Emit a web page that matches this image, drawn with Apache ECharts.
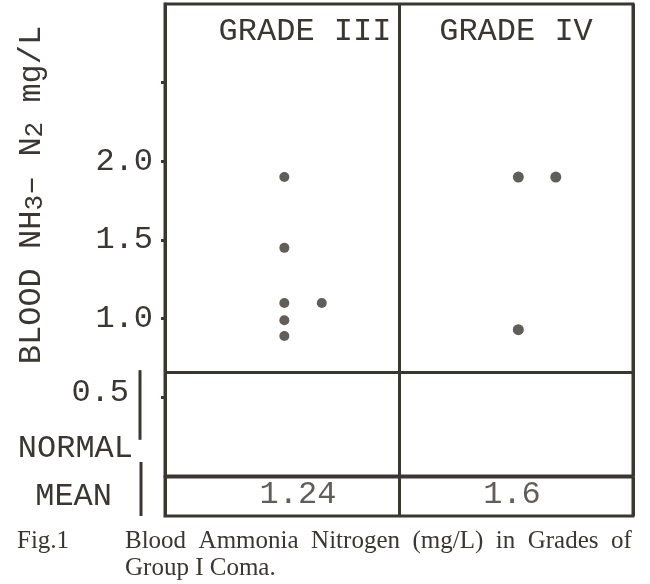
<!DOCTYPE html>
<html>
<head>
<meta charset="utf-8">
<script src="https://cdn.jsdelivr.net/npm/echarts@6/dist/echarts.min.js"></script>
<style>html,body{margin:0;background:#fff}#main{width:650px;height:584px}</style>
</head>
<body>
<div id="main"></div>
<script>
// data
var grades = ['GRADE III', 'GRADE IV'];
var gradeIIIValues = [1.9, 1.45, 1.1, 1.1, 0.99, 0.89];
var gradeIIIColumn = [0, 0, 0, 1, 0, 0];   // 1 = dot typed beside the column
var gradeIVValues = [1.9, 1.9, 0.93];
var gradeIVColumn = [0, 1, 0];
var means = ['1.24', '1.6'];
var normalRange = [0.23, 0.66];
var tickValues = [0.5, 1.0, 1.5, 2.0, 2.5];
var tickLabels = ['0.5', '1.0', '1.5', '2.0'];

var ink = '#3a3631';
var mono = 'Liberation Mono';
var serif = 'Liberation Serif';

// layout
var L = 165, R = 17, top1 = 4, bottom1 = 476, top2 = 477, bottom2 = 516;
var meanShift = [16, -4];

function points(values, cols, g) {
    return values.map(function (v, i) {
        return [g + 0.51 + cols[i] * 0.16, v];
    });
}

var myChart = echarts.init(document.getElementById('main'));
myChart.setOption({
    animation: false,
    title: [{
        text: 'Fig.1',
        left: 17, top: 528, padding: 0,
        textStyle: { fontFamily: serif, fontSize: 25, fontWeight: 'normal', color: ink, lineHeight: 27 }
    }, {
        text: 'Blood  Ammonia  Nitrogen  (mg/L)  in  Grades  of\nGroup I Coma.',
        left: 125, top: 528, padding: 0,
        textStyle: { fontFamily: serif, fontSize: 25, fontWeight: 'normal', color: ink, lineHeight: 27 }
    }],
    grid: [
        { left: L, right: R, top: top1, height: bottom1 - top1, outerBoundsMode: 'none', containLabel: false,
          show: true, borderColor: ink, borderWidth: 3 },
        { left: L, right: R, top: top2, height: bottom2 - top2, outerBoundsMode: 'none', containLabel: false,
          show: true, borderColor: ink, borderWidth: 3 }
    ],
    xAxis: [{
        type: 'value', gridIndex: 0, min: 0, max: 2, interval: 1,
        axisLine: { show: false }, axisTick: { show: false }, axisLabel: { show: false },
        splitLine: { show: true, lineStyle: { color: ink, width: 3 } }
    }, {
        type: 'category', gridIndex: 0, position: 'top', data: grades,
        axisLine: { show: false }, axisTick: { show: false },
        axisLabel: {
            inside: true, interval: 0, hideOverlap: false, margin: 12,
            fontFamily: mono, fontSize: 32, color: ink,
            formatter: function (v, i) { return i === 0 ? '{g|' + v + '}' : v; },
            rich: { g: { fontFamily: mono, fontSize: 32, color: ink, padding: [0, 0, 0, 46] } }
        }
    }, {
        type: 'value', gridIndex: 1, min: 0, max: 2, interval: 1,
        axisLine: { show: false }, axisTick: { show: false }, axisLabel: { show: false },
        splitLine: { show: true, lineStyle: { color: ink, width: 3 } }
    }],
    yAxis: [{
        type: 'value', gridIndex: 0, min: 0, max: 3, interval: 0.5,
        name: '{t|BLOOD NH}{s|3}{t|\u2013 N}{s|2}{t| mg/L}',
        nameLocation: 'middle', nameRotate: 90, nameGap: 117,
        nameTextStyle: {
            padding: [0, 0, 0, 90],
            rich: {
                t: { fontFamily: mono, fontSize: 32, lineHeight: 32, color: ink, verticalAlign: 'top' },
                s: { fontFamily: mono, fontSize: 26, lineHeight: 26, color: ink, verticalAlign: 'bottom', padding: [24, 0, 0, 0] }
            }
        },
        axisLine: { show: true, lineStyle: { color: ink, width: 3 } },
        axisTick: { show: true, length: 4, customValues: tickValues, lineStyle: { color: ink, width: 3 } },
        splitLine: { show: false },
        axisLabel: {
            margin: 12, fontFamily: mono, fontSize: 32, color: ink,
            customValues: tickLabels.map(Number),
            formatter: function (v) {
                var s = v.toFixed(1);
                return s === '0.5' ? '{n|' + s + '}' : s;
            },
            rich: { n: { fontFamily: mono, fontSize: 32, color: ink, padding: [0, 24, 10, 0] } }
        }
    }, {
        type: 'category', gridIndex: 1, data: ['MEAN'],
        axisLine: { show: false }, axisTick: { show: false },
        axisLabel: { margin: 53, fontFamily: mono, fontSize: 32, color: ink }
    }],
    series: [{
        name: grades[0], type: 'scatter', xAxisIndex: 0, yAxisIndex: 0,
        data: points(gradeIIIValues, gradeIIIColumn, 0),
        symbolSize: 10, itemStyle: { color: ink },
        markLine: {
            silent: true, symbol: 'none', label: { show: false },
            lineStyle: { color: ink, width: 3, type: 'solid' },
            data: [{ yAxis: normalRange[1] }]
        }
    }, {
        name: grades[1], type: 'scatter', xAxisIndex: 0, yAxisIndex: 0,
        data: points(gradeIVValues, gradeIVColumn, 1),
        symbolSize: 11, itemStyle: { color: ink }
    }, {
        name: 'MEAN', type: 'scatter', xAxisIndex: 2, yAxisIndex: 1,
        symbolSize: 0,
        data: means.map(function (m, i) {
            return { value: [i + 0.5, 'MEAN'], label: { offset: [meanShift[i], -2] } };
        }),
        label: {
            show: true, position: 'inside', fontFamily: mono, fontSize: 32, color: ink,
            formatter: function (p) { return means[p.dataIndex]; }
        }
    }]
});

// bracket bars beside NORMAL / MEAN, placed through the axis scales
var ax = myChart.convertToPixel({ xAxisIndex: 0 }, 0);
var yTop = myChart.convertToPixel({ yAxisIndex: 0 }, normalRange[1]);
var yBot = myChart.convertToPixel({ yAxisIndex: 0 }, normalRange[0]);
myChart.setOption({
    graphic: [
        { type: 'line', shape: { x1: ax - 25, y1: yTop - 2, x2: ax - 25, y2: yBot }, style: { stroke: ink, lineWidth: 3 } },
        { type: 'text', style: { text: 'NORMAL', x: ax - 32, y: yBot + 9, align: 'right', verticalAlign: 'middle', font: '32px "Liberation Mono"', fill: ink } },
        { type: 'line', shape: { x1: ax - 24, y1: top2 - 15, x2: ax - 24, y2: bottom2 }, style: { stroke: ink, lineWidth: 3 } }
    ]
});
</script>
</body>
</html>
